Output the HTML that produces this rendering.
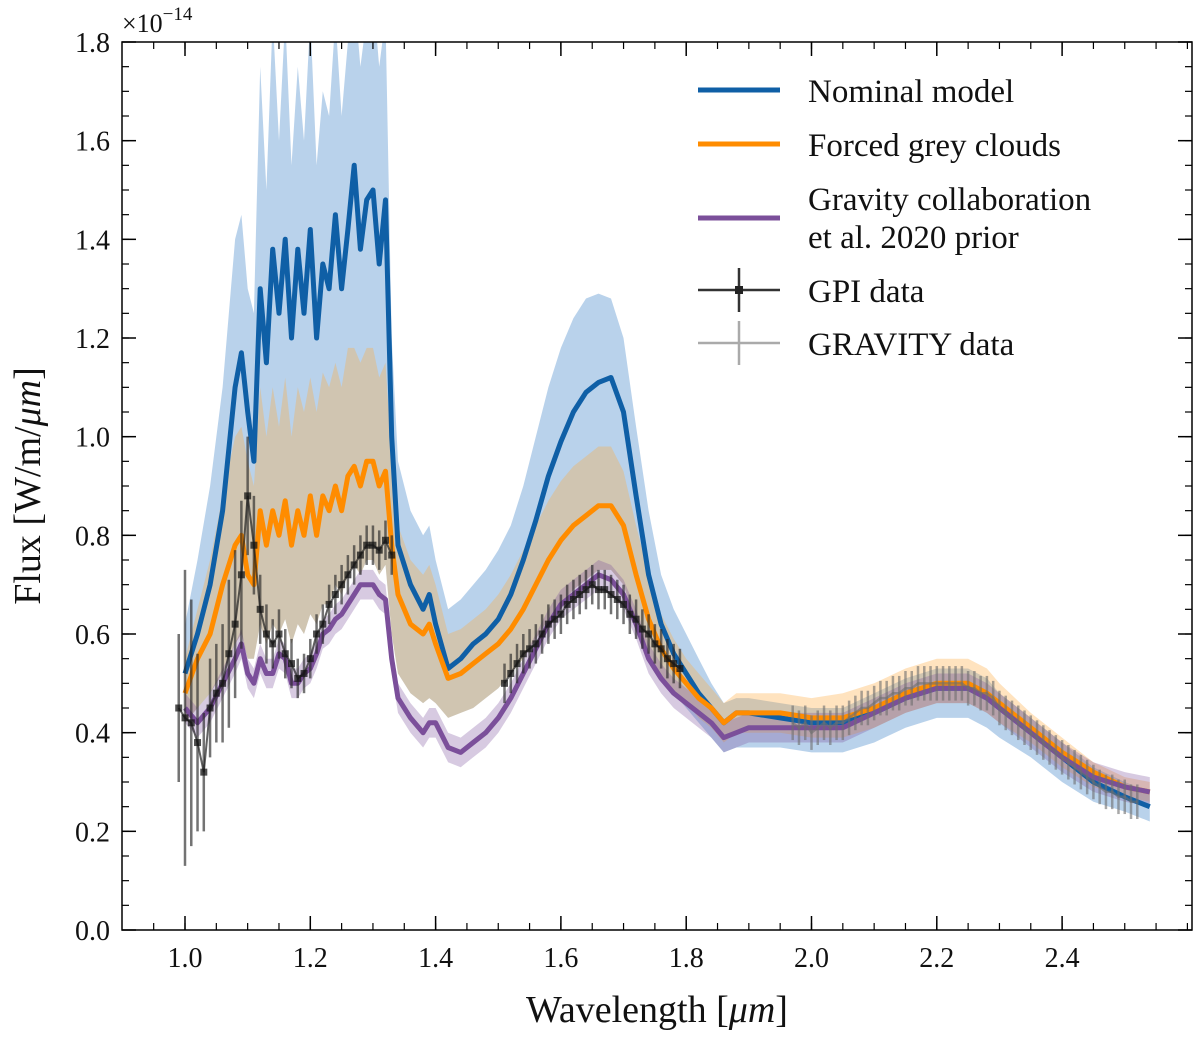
<!DOCTYPE html>
<html><head><meta charset="utf-8"><style>
body{margin:0;background:#fff}
svg text{font-family:"Liberation Serif",serif;fill:#111}
</style></head><body>
<svg id="chart" width="1200" height="1038" viewBox="0 0 1200 1038" xmlns="http://www.w3.org/2000/svg">
<defs><clipPath id="clip"><rect x="122" y="42" width="1070" height="888"/></clipPath></defs>
<g id="bands" clip-path="url(#clip)"></g>
<g id="lines" clip-path="url(#clip)"></g>
<g id="data" clip-path="url(#clip)"></g>
<rect x="122" y="42" width="1070" height="888" fill="none" stroke="#000" stroke-width="1.5"/>
<g id="axes"></g>
<text x="122" y="32" font-size="26">×10<tspan dy="-12" font-size="19">−14</tspan></text>
<text x="657" y="1022" font-size="38" text-anchor="middle">Wavelength [<tspan font-style="italic">μm</tspan>]</text>
<text transform="translate(40,486) rotate(-90)" font-size="38" text-anchor="middle">Flux [W/m/<tspan font-style="italic">μm</tspan>]</text>
<g font-size="33">
<g><line x1="698" y1="90" x2="780" y2="90" stroke="#0f5fa6" stroke-width="5"/><text x="808" y="102">Nominal model</text></g>
<g><line x1="698" y1="144" x2="780" y2="144" stroke="#ff8c00" stroke-width="5"/><text x="808" y="156">Forced grey clouds</text></g>
<g><line x1="698" y1="218" x2="780" y2="218" stroke="#7b4f9a" stroke-width="5"/><text x="808" y="210">Gravity collaboration</text><text x="808" y="248">et al. 2020 prior</text></g>
<g><line x1="698" y1="290" x2="780" y2="290" stroke="#333" stroke-width="2.5"/><line x1="739" y1="268" x2="739" y2="312" stroke="#333" stroke-width="2.5"/><rect x="735" y="286" width="8" height="8" fill="#222"/><text x="808" y="302">GPI data</text></g>
<g><line x1="698" y1="343" x2="780" y2="343" stroke="#aaa" stroke-width="2.5"/><line x1="739" y1="321" x2="739" y2="365" stroke="#aaa" stroke-width="2.5"/><text x="808" y="355">GRAVITY data</text></g>
</g>
</svg>
<script>
const W=[1.00,1.02,1.04,1.06,1.08,1.09,1.10,1.11,1.12,1.13,1.14,1.15,1.16,1.17,1.18,1.19,1.20,1.21,1.22,1.23,1.24,1.25,1.26,1.27,1.28,1.29,1.30,1.31,1.32,1.33,1.34,1.36,1.38,1.39,1.40,1.42,1.44,1.46,1.48,1.50,1.52,1.54,1.56,1.58,1.60,1.62,1.64,1.66,1.68,1.70,1.72,1.74,1.76,1.78,1.80,1.82,1.84,1.86,1.88,1.90,1.95,2.00,2.05,2.10,2.15,2.20,2.25,2.28,2.30,2.35,2.40,2.45,2.50,2.54];
const nominal=[0.52,0.6,0.7,0.85,1.1,1.17,1.05,0.95,1.3,1.15,1.38,1.25,1.4,1.2,1.38,1.25,1.42,1.2,1.35,1.3,1.45,1.3,1.42,1.55,1.38,1.48,1.5,1.35,1.48,1.0,0.78,0.7,0.65,0.68,0.62,0.53,0.55,0.58,0.6,0.63,0.68,0.75,0.83,0.92,0.99,1.05,1.09,1.11,1.12,1.05,0.88,0.72,0.62,0.56,0.52,0.48,0.45,0.42,0.44,0.44,0.43,0.42,0.42,0.44,0.47,0.49,0.49,0.47,0.45,0.40,0.35,0.30,0.27,0.25];
const nominalHi=[0.62,0.75,0.9,1.1,1.4,1.45,1.3,1.25,1.75,1.5,1.85,1.6,1.85,1.55,1.75,1.6,1.85,1.55,1.7,1.65,1.85,1.65,1.8,1.9,1.75,1.85,1.9,1.75,1.85,1.2,0.95,0.85,0.8,0.82,0.75,0.65,0.67,0.7,0.73,0.77,0.82,0.9,1.0,1.1,1.18,1.24,1.28,1.29,1.28,1.2,1.02,0.85,0.72,0.65,0.6,0.55,0.5,0.46,0.47,0.47,0.46,0.45,0.45,0.48,0.51,0.53,0.53,0.51,0.48,0.43,0.38,0.33,0.30,0.28];
const nominalLo=[0.42,0.45,0.48,0.52,0.58,0.6,0.55,0.55,0.62,0.58,0.62,0.6,0.63,0.58,0.62,0.6,0.64,0.62,0.66,0.66,0.7,0.68,0.72,0.74,0.72,0.75,0.75,0.72,0.74,0.6,0.52,0.48,0.46,0.47,0.46,0.43,0.44,0.45,0.47,0.49,0.52,0.55,0.59,0.63,0.66,0.69,0.71,0.73,0.73,0.7,0.62,0.55,0.51,0.48,0.45,0.42,0.39,0.36,0.37,0.37,0.37,0.36,0.36,0.38,0.41,0.43,0.43,0.41,0.39,0.35,0.30,0.26,0.24,0.22];
const grey=[0.48,0.55,0.6,0.7,0.78,0.8,0.72,0.7,0.85,0.78,0.85,0.8,0.87,0.78,0.85,0.8,0.88,0.8,0.88,0.85,0.9,0.85,0.92,0.94,0.9,0.95,0.95,0.9,0.93,0.78,0.68,0.62,0.6,0.62,0.58,0.51,0.52,0.54,0.56,0.58,0.61,0.65,0.7,0.75,0.79,0.82,0.84,0.86,0.86,0.82,0.72,0.63,0.57,0.53,0.5,0.47,0.45,0.42,0.44,0.44,0.44,0.43,0.43,0.45,0.48,0.50,0.50,0.48,0.46,0.41,0.36,0.32,0.29,0.28];
const greyHi=[0.55,0.65,0.75,0.88,1.0,1.02,0.95,0.9,1.1,1.0,1.1,1.02,1.12,1.0,1.1,1.05,1.12,1.05,1.13,1.1,1.15,1.1,1.18,1.18,1.15,1.18,1.18,1.12,1.15,0.95,0.82,0.75,0.72,0.74,0.7,0.6,0.61,0.63,0.65,0.68,0.72,0.77,0.82,0.87,0.91,0.94,0.96,0.98,0.98,0.93,0.82,0.72,0.64,0.59,0.55,0.52,0.49,0.46,0.48,0.48,0.48,0.47,0.48,0.5,0.53,0.55,0.55,0.53,0.5,0.44,0.39,0.34,0.31,0.30];
const greyLo=[0.42,0.45,0.48,0.52,0.58,0.6,0.55,0.55,0.62,0.58,0.62,0.6,0.63,0.58,0.62,0.6,0.64,0.62,0.66,0.66,0.7,0.68,0.72,0.74,0.72,0.75,0.75,0.72,0.74,0.6,0.52,0.48,0.46,0.47,0.46,0.43,0.44,0.45,0.47,0.49,0.52,0.55,0.59,0.63,0.66,0.69,0.71,0.73,0.73,0.7,0.62,0.55,0.51,0.48,0.46,0.43,0.41,0.38,0.4,0.4,0.4,0.39,0.39,0.41,0.44,0.46,0.46,0.44,0.42,0.38,0.33,0.29,0.27,0.26];
const prior=[0.45,0.42,0.45,0.5,0.55,0.58,0.52,0.5,0.55,0.52,0.52,0.56,0.55,0.5,0.5,0.52,0.53,0.56,0.6,0.61,0.63,0.64,0.66,0.68,0.7,0.7,0.7,0.68,0.67,0.55,0.47,0.43,0.4,0.42,0.42,0.37,0.36,0.38,0.4,0.43,0.47,0.52,0.57,0.62,0.66,0.68,0.7,0.72,0.71,0.68,0.62,0.55,0.51,0.48,0.46,0.44,0.42,0.39,0.4,0.41,0.41,0.41,0.41,0.44,0.47,0.49,0.49,0.47,0.45,0.40,0.35,0.31,0.29,0.28];
const priorHalfWidth=0.03;
const gpiW=[0.99,1.00,1.01,1.02,1.03,1.04,1.05,1.06,1.07,1.08,1.09,1.10,1.11,1.12,1.13,1.14,1.15,1.16,1.17,1.18,1.19,1.20,1.21,1.22,1.23,1.24,1.25,1.26,1.27,1.28,1.29,1.30,1.31,1.32,1.33,1.51,1.52,1.53,1.54,1.55,1.56,1.57,1.58,1.59,1.60,1.61,1.62,1.63,1.64,1.65,1.66,1.67,1.68,1.69,1.70,1.71,1.72,1.73,1.74,1.75,1.76,1.77,1.78,1.79];
const gpiF=[0.45,0.43,0.42,0.38,0.32,0.45,0.48,0.5,0.56,0.62,0.72,0.88,0.78,0.65,0.6,0.58,0.6,0.56,0.54,0.51,0.52,0.55,0.6,0.62,0.66,0.68,0.7,0.72,0.74,0.76,0.78,0.78,0.77,0.79,0.76,0.5,0.52,0.54,0.56,0.57,0.58,0.6,0.62,0.63,0.64,0.66,0.67,0.68,0.69,0.7,0.69,0.69,0.68,0.67,0.66,0.64,0.63,0.61,0.6,0.58,0.57,0.55,0.54,0.53];
const gpiErr=[0.15,0.3,0.25,0.18,0.12,0.1,0.1,0.12,0.15,0.15,0.15,0.12,0.1,0.07,0.06,0.05,0.05,0.05,0.05,0.04,0.04,0.04,0.04,0.04,0.04,0.04,0.04,0.04,0.04,0.04,0.04,0.04,0.04,0.04,0.04,0.04,0.04,0.04,0.04,0.04,0.04,0.04,0.04,0.04,0.04,0.04,0.04,0.04,0.04,0.04,0.04,0.04,0.04,0.04,0.04,0.04,0.04,0.04,0.04,0.04,0.04,0.04,0.04,0.04];
const gravW=[1.97,1.98,1.99,2.00,2.01,2.02,2.03,2.04,2.05,2.06,2.07,2.08,2.09,2.10,2.11,2.12,2.13,2.14,2.15,2.16,2.17,2.18,2.19,2.20,2.21,2.22,2.23,2.24,2.25,2.26,2.27,2.28,2.29,2.30,2.31,2.32,2.33,2.34,2.35,2.36,2.37,2.38,2.39,2.40,2.41,2.42,2.43,2.44,2.45,2.46,2.47,2.48,2.49,2.50,2.51,2.52];
const gravF=[0.42,0.41,0.42,0.4,0.41,0.42,0.41,0.42,0.42,0.43,0.44,0.45,0.45,0.46,0.47,0.47,0.48,0.48,0.49,0.49,0.5,0.5,0.5,0.5,0.5,0.5,0.5,0.5,0.49,0.49,0.48,0.48,0.47,0.45,0.44,0.43,0.42,0.41,0.40,0.39,0.38,0.37,0.36,0.35,0.34,0.33,0.32,0.31,0.30,0.29,0.28,0.28,0.27,0.27,0.26,0.26];
const gravErr=0.035;
const xTicks=[1.0,1.2,1.4,1.6,1.8,2.0,2.2,2.4];
const yTicks=[0.0,0.2,0.4,0.6,0.8,1.0,1.2,1.4,1.6,1.8];

const NS="http://www.w3.org/2000/svg";
const X=w=>185+(w-1)*626.5;
const Y=f=>930-f*493.33;
function el(tag,attrs,parent){const e=document.createElementNS(NS,tag);for(const k in attrs)e.setAttribute(k,attrs[k]);parent.appendChild(e);return e;}
const bands=document.getElementById('bands'),lines=document.getElementById('lines'),data=document.getElementById('data'),axes=document.getElementById('axes');
function band(hi,lo,fill,name){
  let d='M'+W.map((w,i)=>X(w).toFixed(1)+','+Y(hi[i]).toFixed(1)).join('L');
  d+='L'+W.slice().reverse().map((w,j)=>{const i=W.length-1-j;return X(w).toFixed(1)+','+Y(lo[i]).toFixed(1);}).join('L')+'Z';
  const p=el('path',{d:d,fill:fill},bands);
  
  
}
function line(v,color,name){
  const p=el('path',{d:'M'+W.map((w,i)=>X(w).toFixed(1)+','+Y(v[i]).toFixed(1)).join('L'),fill:'none',stroke:color,'stroke-width':5,'stroke-linejoin':'round'},lines);
  
  
}
band(nominalHi,nominalLo,'rgba(100,155,210,0.45)','nominal-band');
band(greyHi,greyLo,'rgba(255,170,60,0.33)','grey-clouds-band');
band(prior.map(v=>v+priorHalfWidth),prior.map(v=>v-priorHalfWidth),'rgba(123,79,154,0.3)','prior-band');
line(nominal,'#0f5fa6','nominal-line');
line(grey,'#ff8c00','grey-clouds-line');
line(prior,'#7b4f9a','prior-line');
gravW.forEach((w,i)=>{
  const l=el('line',{x1:X(w),x2:X(w),y1:Y(gravF[i]-gravErr),y2:Y(gravF[i]+gravErr),stroke:'rgba(110,110,110,0.6)','stroke-width':2.5},data);
  
  
});
const gl=el('path',{d:'M'+gravW.map((w,i)=>X(w)+','+Y(gravF[i])).join('L'),fill:'none',stroke:'rgba(110,110,110,0.6)','stroke-width':2.5},data);


gpiW.forEach((w,i)=>{
  const l=el('line',{x1:X(w),x2:X(w),y1:Y(gpiF[i]-gpiErr[i]),y2:Y(gpiF[i]+gpiErr[i]),stroke:'rgba(40,40,40,0.65)','stroke-width':2.5},data);
  
  
});
const seg1=gpiW.filter(w=>w<1.4),seg2=gpiW.filter(w=>w>1.4);
[seg1,seg2].forEach(seg=>{
  const p=el('path',{d:'M'+seg.map(w=>X(w)+','+Y(gpiF[gpiW.indexOf(w)])).join('L'),fill:'none',stroke:'rgba(30,30,30,0.7)','stroke-width':2},data);
  
  
});
gpiW.forEach((w,i)=>{
  const r=el('rect',{x:X(w)-3.5,y:Y(gpiF[i])-3.5,width:7,height:7,fill:'rgba(20,20,20,0.75)'},data);
  
  
});
xTicks.forEach(t=>{
  const x=X(t);
  el('line',{x1:x,x2:x,y1:930,y2:916,stroke:'#000','stroke-width':1.5},axes);
  el('line',{x1:x,x2:x,y1:42,y2:56,stroke:'#000','stroke-width':1.5},axes);
  const tx=el('text',{x:x,y:967,'font-size':28,'text-anchor':'middle'},axes);
  tx.textContent=t.toFixed(1);
  
  
});
for(let w=0.90;w<2.61;w+=0.05){const x=X(w);if(x<123||x>1191)continue;
  el('line',{x1:x,x2:x,y1:930,y2:923,stroke:'#000','stroke-width':1.2},axes);
  el('line',{x1:x,x2:x,y1:42,y2:49,stroke:'#000','stroke-width':1.2},axes);}
yTicks.forEach(t=>{
  const y=Y(t);
  el('line',{x1:122,x2:136,y1:y,y2:y,stroke:'#000','stroke-width':1.5},axes);
  el('line',{x1:1192,x2:1178,y1:y,y2:y,stroke:'#000','stroke-width':1.5},axes);
  const tx=el('text',{x:110,y:y+10,'font-size':28,'text-anchor':'end'},axes);
  tx.textContent=t.toFixed(1);
  
  
});
for(let f=0.05;f<1.8;f+=0.05){const y=Y(f);
  el('line',{x1:122,x2:129,y1:y,y2:y,stroke:'#000','stroke-width':1.2},axes);
  el('line',{x1:1192,x2:1185,y1:y,y2:y,stroke:'#000','stroke-width':1.2},axes);}
</script>
</body></html>
